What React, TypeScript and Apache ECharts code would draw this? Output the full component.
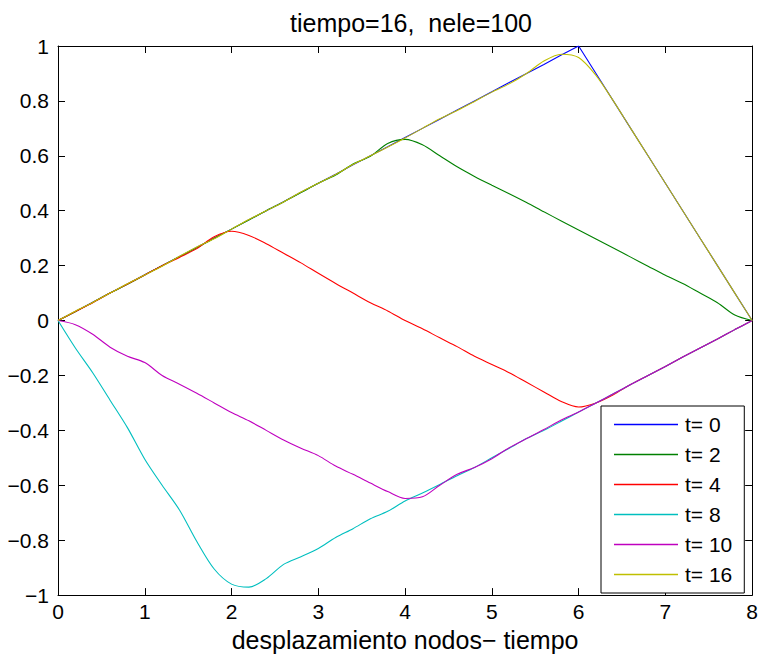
import React, { useEffect, useRef } from "react";
import * as echarts from "echarts";

const xNodes = [
  0, 0.2, 0.4, 0.6, 0.8, 1.0, 1.2, 1.4, 1.6, 1.8, 2.0, 2.2, 2.4, 2.6, 2.8, 3.0,
  3.2, 3.4, 3.6, 3.8, 4.0, 4.2, 4.4, 4.6, 4.8, 5.0, 5.2, 5.4, 5.6, 5.8, 6.0, 6.2,
  6.4, 6.6, 6.8, 7.0, 7.2, 7.4, 7.6, 7.8, 8.0,
];

const t0 = [
  0, 0.033, 0.067, 0.1, 0.133, 0.167, 0.2, 0.233, 0.267, 0.3, 0.333, 0.367, 0.4,
  0.433, 0.467, 0.5, 0.533, 0.567, 0.6, 0.633, 0.667, 0.7, 0.733, 0.767, 0.8,
  0.833, 0.867, 0.9, 0.933, 0.967, 1.0, 0.9, 0.8, 0.7, 0.6, 0.5, 0.4, 0.3, 0.2,
  0.1, 0,
];
const t2 = [
  0, 0.032, 0.066, 0.1, 0.132, 0.166, 0.2, 0.232, 0.265, 0.3, 0.333, 0.366, 0.4,
  0.432, 0.466, 0.5, 0.53, 0.57, 0.598, 0.645, 0.66, 0.64, 0.6, 0.56, 0.525,
  0.493, 0.462, 0.43, 0.396, 0.363, 0.33, 0.297, 0.264, 0.231, 0.198, 0.165,
  0.135, 0.1, 0.065, 0.02, 0,
];
const t4 = [
  0, 0.033, 0.065, 0.1, 0.133, 0.166, 0.2, 0.23, 0.262, 0.305, 0.325, 0.31,
  0.28, 0.245, 0.21, 0.172, 0.135, 0.1, 0.065, 0.035, 0.0, -0.03, -0.063,
  -0.095, -0.13, -0.16, -0.19, -0.225, -0.26, -0.295, -0.315, -0.3, -0.27,
  -0.233, -0.2, -0.167, -0.133, -0.1, -0.067, -0.033, 0,
];
const t8 = [
  0, -0.1, -0.19, -0.29, -0.39, -0.505, -0.6, -0.69, -0.805, -0.905, -0.96,
  -0.971, -0.94, -0.888, -0.86, -0.83, -0.79, -0.758, -0.722, -0.695, -0.657,
  -0.628, -0.597, -0.565, -0.535, -0.5, -0.465, -0.43, -0.4, -0.367, -0.333,
  -0.3, -0.267, -0.233, -0.2, -0.167, -0.133, -0.1, -0.067, -0.033, 0,
];
const t10 = [
  0, -0.015, -0.05, -0.097, -0.13, -0.153, -0.2, -0.232, -0.265, -0.3, -0.335,
  -0.365, -0.4, -0.435, -0.465, -0.492, -0.53, -0.56, -0.592, -0.623, -0.648,
  -0.642, -0.6, -0.56, -0.535, -0.503, -0.463, -0.43, -0.397, -0.362, -0.333,
  -0.3, -0.267, -0.233, -0.2, -0.167, -0.133, -0.1, -0.067, -0.033, 0,
];
const t16 = [
  0, 0.034, 0.066, 0.1, 0.134, 0.166, 0.198, 0.234, 0.268, 0.298, 0.333, 0.368,
  0.4, 0.432, 0.468, 0.5, 0.532, 0.568, 0.6, 0.632, 0.665, 0.7, 0.735, 0.765,
  0.798, 0.832, 0.862, 0.9, 0.945, 0.97, 0.958, 0.893, 0.8, 0.7, 0.6, 0.5, 0.4,
  0.3, 0.2, 0.1, 0,
];

const seriesNames = ["t= 0", "t= 2", "t= 4", "t= 8", "t= 10", "t= 16"];
const seriesValues = [t0, t2, t4, t8, t10, t16];
const seriesColors = ["#0000ff", "#008000", "#ff0000", "#00bfbf", "#bf00bf", "#bfbf00"];
const seriesSmooth = [false, 0.3, 0.3, 0.3, 0.3, 0.3];

const titleText = "tiempo=16,  nele=100";
const xLabelText = "desplazamiento nodos\u2212 tiempo";

const FONT = "'Liberation Sans', Arial, Helvetica, sans-serif";

const fmt = (v: number) => {
  const r = Math.round(v * 10) / 10;
  if (Math.abs(r) < 1e-9) return "0";
  return r < 0 ? "\u2212" + String(Math.abs(r)) : String(r);
};

export default function App() {
  const ref = useRef<HTMLDivElement>(null);
  useEffect(() => {
    if (!ref.current) return;
    const chart = echarts.init(ref.current, undefined, { renderer: "svg" });
    const axisCommon = {
      axisLine: { show: true, onZero: false, lineStyle: { color: "#000", width: 1 } },
      axisTick: { show: true, inside: true, length: 7, lineStyle: { color: "#000", width: 1 } },
      splitLine: { show: false },
    };
    chart.setOption({
      animation: false,
      backgroundColor: "#fff",
      title: {
        text: titleText,
        left: 406,
        textAlign: "center",
        top: 5,
        textStyle: { fontFamily: FONT, fontSize: 25, fontWeight: "normal", color: "#000" },
      },
      grid: { left: 58, right: 7, top: 46, bottom: 60, containLabel: false },
      xAxis: [
        {
          type: "value",
          min: 0,
          max: 8,
          interval: 1,
          position: "bottom",
          name: xLabelText,
          nameLocation: "middle",
          nameGap: 30,
          nameTextStyle: { fontFamily: FONT, fontSize: 25, color: "#000" },
          axisLabel: { fontFamily: FONT, fontSize: 21, color: "#000", margin: 6, formatter: fmt },
          ...axisCommon,
        },
        {
          type: "value",
          min: 0,
          max: 8,
          interval: 1,
          position: "top",
          axisLabel: { show: false },
          ...axisCommon,
        },
      ],
      yAxis: [
        {
          type: "value",
          min: -1,
          max: 1,
          interval: 0.2,
          position: "left",
          axisLabel: { fontFamily: FONT, fontSize: 21, color: "#000", margin: 9, formatter: fmt },
          ...axisCommon,
        },
        {
          type: "value",
          min: -1,
          max: 1,
          interval: 0.2,
          position: "right",
          axisLabel: { show: false },
          ...axisCommon,
        },
      ],
      legend: {
        orient: "vertical",
        left: 601,
        top: 406,
        padding: [8, 12, 8, 13],
        icon: "rect",
        itemWidth: 64,
        itemHeight: 1.3,
        itemGap: 9,
        backgroundColor: "#fff",
        borderColor: "#000",
        borderWidth: 1,
        borderRadius: 0,
        textStyle: { fontFamily: FONT, fontSize: 21, color: "#000", lineHeight: 18, padding: [0, 0, 0, 2] },
        data: seriesNames,
      },
      series: seriesNames.map((name, i) => ({
        name,
        type: "line",
        xAxisIndex: 0,
        yAxisIndex: 0,
        showSymbol: false,
        symbol: "none",
        smooth: seriesSmooth[i],
        lineStyle: { color: seriesColors[i], width: 1.1 },
        itemStyle: { color: seriesColors[i] },
        data: xNodes.map((x, k) => [x, seriesValues[i][k]]),
      })),
    });
    return () => chart.dispose();
  }, []);
  return (
    <div
      ref={ref}
      style={{ position: "fixed", left: 0, top: 0, width: 761, height: 657 }}
    />
  );
}
